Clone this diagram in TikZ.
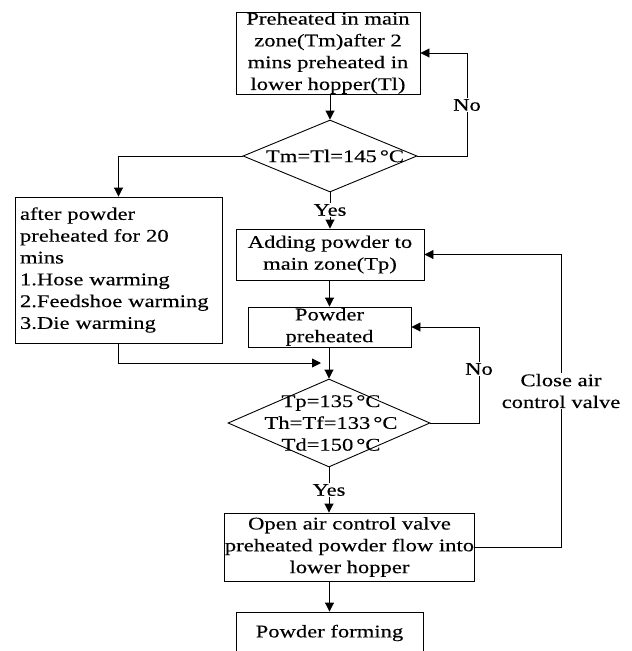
\documentclass[tikz,border=0pt]{standalone}
\usepackage{fontspec}
\setmainfont{Liberation Serif}[FakeStretch=1.27,FakeBold=0.3]
\usetikzlibrary{shapes.geometric,arrows.meta}
\begin{document}
\begin{tikzpicture}[x=1pt,y=-1pt,
  every node/.style={font=\fontsize{17.8}{21.8}\selectfont},
  box/.style={draw, line width=0.9pt, inner sep=0pt, align=center},
  dia/.style={draw, diamond, line width=0.9pt, inner sep=0pt},
  lbl/.style={fill=white, inner sep=1pt, align=center},
  arr/.style={line width=0.9pt, -{Triangle[length=9pt,width=9pt]}},
  ln/.style={line width=0.9pt}]
\useasboundingbox (0,0) rectangle (632,651);
\clip (0,0) rectangle (632,651);

\node[box, minimum width=184pt, minimum height=82pt] (top) at (328,53) {Preheated in main\\zone(Tm)after 2\\mins preheated in\\lower hopper(Tl)};
\node[dia, minimum width=174pt, minimum height=72pt] (d1) at (330,156) {};
\node (t1) at (335,156) {Tm=Tl=145\,°C};
\node[box, minimum width=207pt, minimum height=146pt, text width=197pt, align=left] (left) at (118.5,270) {after powder\\preheated for 20\\mins\\1.Hose warming\\2.Feedshoe warming\\3.Die warming};
\node[box, minimum width=188pt, minimum height=51pt] (add) at (330,254.5) {Adding powder to\\main zone(Tp)};
\node[box, minimum width=163pt, minimum height=40pt] (pre) at (329.5,327) {Powder\\preheated};
\node[dia, minimum width=202pt, minimum height=88pt] (d2) at (329,423) {};
\node[align=center] (t2) at (331,423) {Tp=135\,°C\\Th=Tf=133\,°C\\Td=150\,°C};
\node[box, minimum width=227pt, minimum height=68pt] (open) at (349.5,547) {Open air control valve\\preheated powder flow into\\lower hopper};
\node[box, minimum width=187pt, minimum height=42pt] (form) at (329.5,633) {Powder forming};

\coordinate (n1) at (467,156);
\coordinate (j) at (321,363);
\coordinate (n2) at (479,423);
\coordinate (c1) at (561,547);

% connectors
\draw[arr] (top.south -| d1.north) -- (d1.north);
\draw[arr] (d1.east) -- (n1) |- (top.east);
\node[lbl] (no1) at (467,105) {No};
\draw[arr] (d1.west) -| (left.north);
\draw[arr] (left.south) |- (j);
\draw[arr] (d1.south) -- (add.north);
\node[lbl] (yes1) at (330,210) {Yes};
\draw[arr] (add.south -| pre.north) -- (pre.north);
\draw[arr] (pre.south -| d2.north) -- (d2.north);
\draw[arr] (d2.east) -- (n2) |- (pre.east);
\node[lbl] (no2) at (479,369) {No};
\draw[arr] (d2.south) -- (d2.south |- open.north);
\node[lbl] (yes2) at (329,490) {Yes};
\draw[arr] (open.east) -- (c1) |- (add.east);
\node[lbl] (close) at (561,391) {Close air\\control valve};
\draw[arr] (form.north |- open.south) -- (form.north);
\end{tikzpicture}
\end{document}
